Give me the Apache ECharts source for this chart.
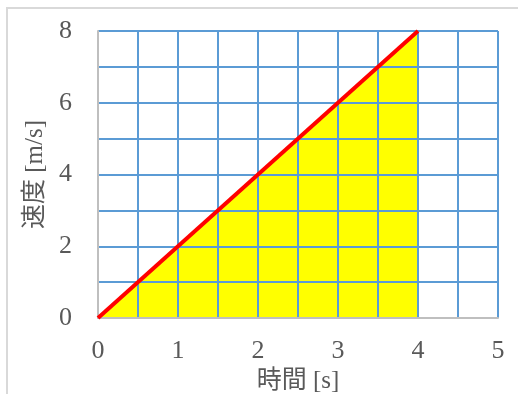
<!DOCTYPE html>
<html>
<head>
<meta charset="utf-8">
<script src="https://cdn.jsdelivr.net/npm/echarts@6/dist/echarts.min.js"></script>
<style>
  html, body { margin: 0; padding: 0; background: #fff; }
  #chart { width: 518px; height: 394px; }
</style>
</head>
<body>
<div id="chart"></div>
<script>
// 時間 [s] と 速度 [m/s]
const times = [0, 4];
const speeds = [0, 8];
const xTicks = [0, 1, 2, 3, 4, 5];
const yTicks = [0, 2, 4, 6, 8];

const points = times.map((t, i) => [t, speeds[i]]);
const serif = "'Liberation Serif', 'Times New Roman', 'Noto Sans CJK JP', serif";

const chart = echarts.init(document.getElementById('chart'));

chart.setOption({
  animation: false,
  graphic: [{
    type: 'rect',
    shape: { x: 7, y: 8, width: 530, height: 400 },
    style: { fill: 'none', stroke: '#d9d9d9', lineWidth: 2 },
    silent: true
  }],
  grid: { left: 98, right: 20, top: 31, bottom: 76, outerBoundsMode: 'none', containLabel: false },
  xAxis: {
    type: 'value',
    min: 0,
    max: 5,
    interval: 0.5,
    z: 3,
    name: '時間 [s]',
    nameLocation: 'middle',
    nameGap: 46,
    nameTextStyle: { fontFamily: serif, fontSize: 25, color: '#595959' },
    axisLine: { show: true, lineStyle: { color: '#bfbfbf', width: 2 } },
    axisTick: { show: false },
    axisLabel: {
      margin: 20,
      fontFamily: serif,
      fontSize: 26,
      color: '#595959',
      formatter: v => (xTicks.includes(v) ? String(v) : '')
    },
    splitLine: { show: true, lineStyle: { color: '#5b9bd5', width: 2 } }
  },
  yAxis: {
    type: 'value',
    min: 0,
    max: 8,
    interval: 1,
    z: 3,
    name: '速度 [m/s]',
    nameLocation: 'middle',
    nameGap: 50,
    nameTextStyle: { fontFamily: serif, fontSize: 25, color: '#595959' },
    axisLine: { show: true, lineStyle: { color: '#bfbfbf', width: 2 } },
    axisTick: { show: false },
    axisLabel: {
      margin: 26,
      fontFamily: serif,
      fontSize: 26,
      color: '#595959',
      formatter: v => (yTicks.includes(v) ? String(v) : '')
    },
    splitLine: { show: true, lineStyle: { color: '#5b9bd5', width: 2 } }
  },
  series: [
    {
      type: 'line',
      data: points,
      z: 1,
      symbol: 'none',
      lineStyle: { width: 0, opacity: 0 },
      areaStyle: { color: '#ffff00', opacity: 1 }
    },
    {
      type: 'line',
      data: points,
      z: 5,
      symbol: 'none',
      lineStyle: { color: '#ff0000', width: 4 }
    }
  ]
});
</script>
</body>
</html>
